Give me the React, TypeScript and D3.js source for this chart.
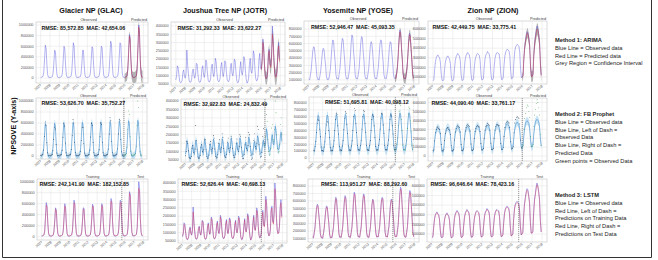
import * as d3 from "d3";
import { useEffect, useRef } from "react";

// visits per month, in thousands, Jan 2007 .. Dec 2017
const glacObserved = [
  12, 15, 22, 30, 110, 360, 620, 560, 240, 60, 15, 11,
  11, 14, 20, 26, 95, 300, 525, 490, 210, 55, 14, 10,
  12, 15, 21, 30, 105, 340, 600, 545, 235, 58, 14, 11,
  12, 16, 23, 31, 115, 370, 665, 600, 250, 62, 15, 12,
  11, 14, 20, 25, 85, 280, 525, 520, 230, 55, 14, 11,
  12, 15, 22, 30, 110, 345, 590, 560, 245, 60, 15, 12,
  12, 16, 22, 31, 112, 350, 600, 570, 250, 58, 15, 12,
  13, 17, 24, 33, 125, 400, 695, 640, 270, 65, 16, 13,
  14, 18, 25, 35, 130, 400, 665, 640, 300, 75, 17, 14,
  15, 19, 28, 40, 160, 480, 820, 760, 350, 85, 18, 15,
  16, 20, 30, 42, 170, 560, 1000, 880, 330, 80, 18, 16,
];
const jotrObserved = [
  75, 100, 160, 150, 105, 66, 58, 60, 72, 120, 135, 95,
  85, 115, 255, 165, 110, 68, 60, 62, 78, 125, 140, 100,
  85, 110, 175, 170, 110, 70, 60, 62, 80, 140, 160, 110,
  90, 120, 195, 180, 115, 72, 62, 65, 82, 150, 170, 115,
  95, 125, 205, 185, 118, 74, 64, 66, 84, 155, 180, 118,
  95, 125, 190, 180, 120, 75, 65, 66, 85, 150, 175, 115,
  100, 130, 200, 190, 125, 72, 58, 60, 82, 140, 185, 120,
  105, 135, 215, 200, 130, 78, 55, 62, 85, 165, 205, 130,
  115, 150, 250, 230, 140, 85, 68, 72, 95, 190, 235, 150,
  140, 190, 320, 280, 170, 100, 80, 85, 120, 240, 260, 170,
  160, 230, 400, 330, 200, 120, 95, 100, 140, 260, 300, 200,
];
const yoseObserved = [
  115, 105, 165, 240, 370, 500, 557, 545, 420, 310, 160, 110,
  110, 100, 160, 235, 355, 480, 535, 520, 400, 300, 150, 105,
  115, 110, 170, 250, 400, 560, 650, 630, 470, 350, 170, 115,
  120, 110, 175, 255, 410, 580, 672, 650, 490, 360, 175, 118,
  120, 112, 175, 250, 400, 600, 718, 690, 500, 370, 180, 120,
  122, 115, 180, 260, 420, 600, 695, 680, 500, 375, 180, 120,
  120, 112, 178, 255, 400, 560, 626, 600, 470, 300, 170, 118,
  125, 118, 185, 265, 420, 580, 650, 640, 480, 360, 180, 122,
  125, 118, 185, 262, 410, 560, 626, 610, 470, 350, 178, 120,
  130, 125, 200, 290, 470, 680, 786, 760, 560, 400, 190, 125,
  120, 115, 180, 260, 430, 640, 741, 720, 540, 380, 185, 120,
];
const zionObserved = [
  60, 70, 170, 260, 300, 320, 330, 310, 300, 250, 130, 65,
  60, 70, 175, 255, 290, 310, 320, 300, 290, 240, 120, 60,
  62, 75, 180, 270, 310, 330, 345, 330, 320, 270, 130, 65,
  65, 80, 190, 280, 320, 340, 355, 340, 330, 280, 135, 68,
  65, 80, 195, 275, 310, 335, 345, 335, 325, 275, 140, 70,
  70, 85, 200, 290, 330, 345, 365, 350, 340, 290, 145, 72,
  70, 85, 200, 290, 330, 350, 355, 345, 340, 280, 140, 72,
  75, 95, 220, 320, 360, 380, 390, 380, 370, 320, 160, 80,
  85, 105, 260, 370, 410, 430, 440, 430, 420, 360, 180, 90,
  100, 120, 300, 420, 480, 540, 572, 560, 500, 430, 220, 110,
  110, 130, 330, 460, 520, 590, 630, 600, 540, 460, 240, 120,
];

// ARIMA forecast, Jan 2016 .. Dec 2017, with half width of the interval
const glacArima = [
  5, 10, 20, 40, 150, 460, 790, 730, 330, 80, 20, 10,
  8, 12, 25, 45, 170, 540, 960, 860, 350, 85, 20, 12,
];
const glacArimaCi = [
  75, 80, 85, 88, 90, 92, 95, 97, 99, 100, 102, 104,
  105, 106, 108, 110, 112, 114, 116, 118, 120, 121, 122, 124,
];
const jotrArima = [
  135, 180, 300, 270, 165, 100, 82, 88, 115, 225, 250, 165,
  150, 210, 350, 310, 190, 115, 90, 95, 130, 245, 280, 185,
];
const jotrArimaCi = [
  30, 32, 34, 35, 36, 37, 38, 39, 40, 41, 42, 43,
  44, 45, 46, 46, 47, 47, 48, 48, 49, 49, 50, 50,
];
const yoseArima = [
  125, 120, 190, 275, 440, 640, 760, 740, 540, 390, 185, 122,
  122, 118, 185, 265, 420, 620, 720, 700, 530, 375, 180, 118,
];
const yoseArimaCi = [
  50, 52, 54, 56, 58, 60, 62, 63, 64, 65, 66, 67,
  68, 69, 70, 71, 72, 73, 74, 75, 76, 77, 78, 79,
];
const zionArima = [
  95, 115, 290, 410, 470, 520, 560, 545, 490, 420, 210, 105,
  105, 125, 320, 440, 500, 560, 600, 585, 525, 445, 230, 115,
];
const zionArimaCi = [
  40, 42, 44, 46, 48, 50, 52, 53, 54, 55, 56, 57,
  58, 59, 60, 61, 62, 63, 64, 65, 66, 67, 68, 69,
];

// Prophet fitted curve over the whole span
const glacProphet = [
  -20, -10, 5, 35, 140, 380, 590, 555, 265, 55, -10, -22,
  -20, -10, 5, 35, 142, 384, 595, 558, 267, 56, -10, -22,
  -19, -9, 6, 36, 144, 388, 600, 562, 270, 57, -9, -21,
  -18, -8, 7, 37, 146, 392, 605, 566, 272, 58, -8, -20,
  -17, -7, 8, 38, 148, 396, 610, 570, 275, 59, -7, -19,
  -16, -6, 9, 39, 150, 400, 615, 575, 278, 60, -6, -18,
  -15, -5, 10, 40, 152, 405, 620, 580, 281, 62, -5, -17,
  -13, -3, 12, 42, 155, 410, 627, 586, 285, 64, -3, -15,
  -11, -1, 14, 44, 158, 416, 634, 592, 289, 66, -1, -13,
  -9, 1, 16, 46, 161, 422, 641, 598, 293, 68, 1, -11,
  -7, 3, 18, 48, 164, 428, 648, 604, 297, 70, 3, -9,
];
const jotrProphet = [
  85, 110, 165, 150, 110, 70, 58, 62, 80, 125, 140, 100,
  88, 113, 168, 153, 113, 73, 61, 65, 83, 128, 143, 103,
  91, 116, 171, 156, 116, 76, 64, 68, 86, 131, 146, 106,
  94, 119, 174, 159, 119, 79, 67, 71, 89, 134, 149, 109,
  96, 121, 176, 161, 121, 81, 69, 73, 91, 136, 151, 111,
  98, 123, 178, 163, 123, 83, 71, 75, 93, 138, 153, 113,
  101, 126, 181, 166, 126, 86, 74, 78, 96, 141, 156, 116,
  106, 131, 186, 171, 131, 91, 79, 83, 101, 146, 161, 121,
  113, 138, 193, 178, 138, 98, 86, 90, 108, 153, 168, 128,
  130, 160, 235, 215, 160, 115, 100, 105, 125, 180, 200, 150,
  140, 170, 250, 230, 170, 125, 110, 115, 135, 195, 215, 160,
];
const yoseProphet = [
  100, 95, 155, 245, 390, 545, 620, 600, 455, 330, 155, 95,
  102, 97, 157, 247, 393, 548, 624, 604, 458, 332, 157, 97,
  104, 99, 159, 249, 396, 552, 628, 608, 461, 334, 159, 99,
  106, 101, 161, 251, 399, 556, 632, 612, 464, 336, 161, 101,
  108, 103, 163, 253, 402, 560, 636, 616, 467, 338, 163, 103,
  110, 105, 165, 255, 405, 564, 640, 620, 470, 340, 165, 105,
  111, 106, 166, 256, 407, 566, 642, 622, 472, 341, 166, 106,
  112, 107, 167, 257, 409, 568, 645, 625, 474, 342, 167, 107,
  114, 109, 169, 259, 412, 572, 649, 629, 477, 344, 169, 109,
  116, 111, 171, 261, 415, 576, 653, 633, 480, 346, 171, 111,
  118, 113, 173, 263, 418, 580, 657, 637, 483, 348, 173, 113,
];
const zionProphet = [
  40, 60, 170, 250, 290, 310, 320, 305, 290, 240, 120, 45,
  45, 65, 175, 255, 295, 315, 325, 310, 295, 245, 125, 50,
  50, 70, 180, 260, 300, 320, 330, 315, 300, 250, 130, 55,
  55, 75, 185, 265, 305, 325, 335, 320, 305, 255, 135, 60,
  60, 80, 190, 270, 310, 330, 340, 325, 310, 260, 140, 65,
  65, 85, 195, 275, 315, 335, 345, 330, 315, 265, 145, 70,
  70, 90, 200, 280, 320, 340, 350, 335, 320, 270, 150, 75,
  78, 98, 210, 292, 334, 354, 364, 349, 334, 282, 158, 83,
  88, 108, 222, 306, 350, 370, 380, 365, 350, 296, 168, 93,
  98, 118, 234, 320, 366, 386, 396, 381, 366, 310, 178, 103,
  108, 128, 246, 334, 382, 402, 412, 397, 382, 324, 188, 113,
];
// uncertainty half width of the Prophet band
const prophetBands = [70, 28, 60, 45];

// LSTM predictions (training part, then test part)
const glacLstm = [
  20, 18, 24, 32, 95, 330, 575, 540, 250, 70, 22, 16,
  15, 16, 22, 30, 100, 290, 500, 470, 215, 62, 20, 15,
  16, 17, 23, 32, 100, 320, 560, 520, 240, 64, 20, 15,
  16, 18, 25, 33, 110, 350, 620, 580, 255, 68, 21, 16,
  15, 16, 22, 28, 90, 270, 500, 495, 235, 62, 20, 15,
  16, 17, 24, 32, 105, 330, 560, 540, 250, 66, 21, 16,
  16, 18, 24, 33, 108, 335, 570, 550, 255, 65, 21, 16,
  17, 19, 26, 35, 118, 380, 650, 615, 275, 70, 22, 17,
  18, 20, 27, 37, 125, 385, 630, 615, 300, 80, 23, 18,
  19, 21, 30, 42, 150, 455, 790, 730, 345, 88, 24, 19,
  20, 22, 32, 44, 160, 520, 880, 830, 330, 85, 24, 20,
];
const jotrLstm = [
  80, 98, 150, 145, 108, 70, 60, 62, 75, 115, 128, 95,
  88, 112, 225, 165, 112, 70, 62, 64, 80, 122, 135, 100,
  88, 110, 170, 165, 112, 72, 62, 64, 82, 135, 152, 110,
  92, 118, 185, 175, 116, 74, 64, 67, 84, 145, 162, 115,
  96, 122, 195, 180, 118, 76, 66, 68, 86, 150, 172, 118,
  96, 122, 182, 175, 120, 77, 67, 68, 87, 145, 168, 115,
  100, 127, 190, 182, 124, 74, 61, 62, 84, 137, 176, 120,
  105, 132, 205, 192, 128, 80, 58, 64, 87, 158, 195, 128,
  114, 145, 235, 220, 138, 86, 70, 74, 96, 182, 222, 148,
  135, 180, 300, 268, 165, 100, 82, 86, 118, 228, 248, 165,
  152, 215, 365, 310, 192, 118, 94, 98, 135, 245, 280, 190,
];
const yoseLstm = [
  120, 112, 170, 240, 360, 485, 540, 530, 410, 305, 165, 115,
  114, 106, 164, 236, 350, 470, 520, 508, 395, 296, 155, 110,
  118, 112, 172, 248, 390, 545, 630, 615, 460, 345, 172, 118,
  122, 114, 176, 252, 400, 565, 650, 635, 480, 355, 176, 120,
  122, 115, 176, 250, 392, 585, 695, 675, 490, 365, 180, 122,
  124, 117, 180, 258, 410, 585, 675, 665, 490, 370, 180, 122,
  122, 114, 178, 254, 392, 548, 610, 590, 462, 300, 172, 120,
  126, 120, 184, 262, 410, 568, 632, 625, 472, 355, 180, 123,
  126, 120, 184, 260, 402, 548, 610, 598, 462, 346, 178, 122,
  130, 126, 196, 282, 455, 660, 760, 740, 550, 395, 188, 126,
  122, 117, 180, 258, 420, 622, 715, 700, 530, 375, 184, 122,
];
const zionLstm = [
  65, 72, 160, 250, 292, 312, 322, 305, 295, 245, 135, 70,
  64, 72, 165, 246, 284, 303, 312, 295, 286, 237, 125, 64,
  66, 76, 170, 260, 302, 322, 336, 322, 314, 265, 135, 68,
  68, 80, 180, 270, 312, 332, 346, 332, 324, 275, 140, 70,
  68, 80, 185, 266, 302, 327, 336, 327, 319, 270, 145, 72,
  72, 85, 190, 280, 322, 337, 355, 342, 334, 285, 148, 74,
  72, 85, 190, 280, 322, 342, 346, 337, 333, 276, 145, 74,
  78, 94, 208, 308, 350, 370, 380, 372, 362, 315, 162, 82,
  86, 104, 245, 355, 398, 418, 428, 420, 410, 352, 182, 92,
  100, 118, 285, 405, 465, 525, 556, 546, 490, 422, 218, 110,
  110, 128, 315, 445, 505, 572, 612, 588, 530, 452, 238, 120,
];

const parkTitles = ["Glacier NP (GLAC)", "Joushua Tree NP (JOTR)", "Yosemite NP (YOSE)", "Zion NP (ZION)"];
const yearLabels = ["2007", "2008", "2009", "2010", "2011", "2012", "2013", "2014", "2015", "2016", "2017", "2018"];

const arimaScores = [
  "RMSE: 85,572.85  MAE: 42,654.06",
  "RMSE: 31,292.33  MAE: 23,622.27",
  "RMSE: 52,946.47  MAE: 45,093.35",
  "RMSE: 42,449.75  MAE: 33,775.41",
];
const prophetScores = [
  "RMSE: 53,626.70  MAE: 35,752.27",
  "RMSE: 32,922.83  MAE: 24,832.49",
  "RMSE: 51,695.81  MAE: 40,098.12",
  "RMSE: 44,090.40  MAE: 33,761.17",
];
const lstmScores = [
  "RMSE: 242,141.90  MAE: 182,152.85",
  "RMSE: 52,626.44  MAE: 40,698.13",
  "RMSE: 113,951.27  MAE: 88,292.60",
  "RMSE: 96,646.64  MAE: 78,423.16",
];

const methodNotes = [
  ["Method 1: ARIMA", "Blue Line = Observed data", "Red Line = Predicted data", "Grey Region = Confidence Interval"],
  ["Method 2: FB Prophet", "Blue Line = Observed data", "Blue Line, Left of Dash =", "Observed Data",
    "Blue Line, Right of Dash =", "Predicted Data", "Green points = Observed Data"],
  ["Method 3: LSTM", "Blue Line = Observed data", "Red Line, Left of Dash =", "Predictions on Training Data",
    "Red Line, Right of Dash =", "Predictions on Test Data"],
];

// y ticks, thousands
const ticksGlac = [0, 200, 400, 600, 800, 1000];
const ticksJotr = [50, 100, 150, 200, 250, 300, 350, 400];
const ticksYose = [100, 200, 300, 400, 500, 600, 700, 800];
const ticksYoseZero = [0, 100, 200, 300, 400, 500, 600, 700, 800];
const ticksZion = [100, 200, 300, 400, 500, 600];
const ticksZionZero = [0, 100, 200, 300, 400, 500, 600];

const observedSets = [glacObserved, jotrObserved, yoseObserved, zionObserved];
const arimaSets = [glacArima, jotrArima, yoseArima, zionArima];
const arimaCiSets = [glacArimaCi, jotrArimaCi, yoseArimaCi, zionArimaCi];
const prophetSets = [glacProphet, jotrProphet, yoseProphet, zionProphet];
const lstmSets = [glacLstm, jotrLstm, yoseLstm, zionLstm];

// panel frames and axis ranges, one entry per row
const rows = [
  {
    frames: [{ x: 36, y: 22, w: 112, h: 61 }, { x: 171, y: 22, w: 114, h: 64 }, { x: 304, y: 21, w: 115, h: 63 }, { x: 428, y: 21, w: 119, h: 63 }],
    domains: [[-94, 1057], [38, 424], [45, 910], [27, 683]],
    ticks: [ticksGlac, ticksJotr, ticksYose, ticksZion],
    scoreDx: [5.5, 6.5, 7, 4.5],
    scoreDy: 7.5,
  },
  {
    frames: [{ x: 36, y: 98, w: 111, h: 61 }, { x: 181, y: 99, w: 106, h: 63 }, { x: 309, y: 97, w: 109, h: 65 }, { x: 428, y: 98, w: 119, h: 63 }],
    domains: [[-55, 1055], [38, 412], [-58, 887], [-55, 650]],
    ticks: [ticksGlac, ticksJotr, ticksYoseZero, ticksZionZero],
    scoreDx: [5.5, 2.5, 16, 3.5],
    scoreDy: 6.5,
  },
  {
    frames: [{ x: 37, y: 179, w: 111, h: 61 }, { x: 178, y: 179, w: 109, h: 64 }, { x: 308, y: 179, w: 111, h: 63 }, { x: 427, y: 179, w: 120, h: 63 }],
    domains: [[-60, 1049], [38, 424], [52, 894], [17, 672]],
    ticks: [ticksGlac, ticksJotr, ticksYose, ticksZion],
    scoreDx: [2.5, 3.5, 13, 3.5],
    scoreDy: 7,
  },
];

const months = d3.timeMonth.range(new Date(2007, 0, 1), new Date(2018, 0, 1));
const forecastStart = 108; // Jan 2016
const testStart = 104; // Sep 2015

const BLUE = "#4b4bdc";
const RED = "#d42a3c";
const FONT = "'Liberation Sans', Arial, sans-serif";

const App = () => {
  const ref = useRef<SVGSVGElement>(null);

  useEffect(() => {
    const svg = d3.select(ref.current);
    svg.selectAll("*").remove();

    svg.append("rect").attr("width", 658).attr("height", 260).attr("fill", "#fff");
    // outer border
    svg.append("path")
      .attr("d", "M2.5,0 V257.5 H651.5 V0")
      .attr("fill", "none").attr("stroke", "#333").attr("stroke-width", 1);

    const titleX = [91, 225, 358, 493];
    parkTitles.forEach((t, i) => {
      svg.append("text").attr("x", titleX[i]).attr("y", 12.5)
        .attr("text-anchor", "middle").attr("font-family", FONT)
        .attr("font-weight", 700).attr("font-size", 7.2).attr("fill", "#111").text(t);
    });

    svg.append("text")
      .attr("transform", "translate(16,126) rotate(-90)")
      .attr("text-anchor", "middle").attr("font-family", FONT)
      .attr("font-weight", 700).attr("font-size", 7.2).attr("fill", "#111")
      .text("NPSOVE (Y-axis)");

    const noteTop = [42, 116, 197];
    methodNotes.forEach((lines, r) => {
      lines.forEach((l, k) => {
        svg.append("text").attr("x", 555).attr("y", noteTop[r] + k * 7.8)
          .attr("font-family", FONT).attr("font-size", 5.7)
          .attr("font-weight", k === 0 ? 700 : 400).attr("fill", "#222").text(l);
      });
    });

    const xDomain = [new Date(2006, 6, 1), new Date(2018, 6, 1)];
    const yearTicks = yearLabels.map(y => new Date(+y, 0, 1));

    let clipId = 0;
    rows.forEach((row, r) => {
      row.frames.forEach((f, p) => {
        const g = svg.append("g").attr("transform", `translate(${f.x},${f.y})`);
        const x = d3.scaleTime().domain(xDomain).range([0, f.w]);
        const y = d3.scaleLinear().domain(row.domains[p]).range([f.h, 0]);
        const ticks = row.ticks[p];

        g.append("rect").attr("width", f.w).attr("height", f.h).attr("fill", "#fff");
        g.selectAll(".gy").data(ticks).enter().append("line")
          .attr("x1", 0).attr("x2", f.w).attr("y1", d => y(d)).attr("y2", d => y(d))
          .attr("stroke", "#dcdcdc").attr("stroke-width", 0.4);
        g.selectAll(".gx").data(yearTicks).enter().append("line")
          .attr("y1", 0).attr("y2", f.h).attr("x1", d => x(d)).attr("x2", d => x(d))
          .attr("stroke", "#dcdcdc").attr("stroke-width", 0.4);

        // y tick labels
        g.selectAll(".ty").data(ticks).enter().append("text")
          .attr("x", -2.5).attr("y", d => y(d) + 1.3)
          .attr("text-anchor", "end").attr("font-family", FONT).attr("font-size", 3.8)
          .attr("fill", "#555").text(d => String(d * 1000));
        // x tick labels
        g.selectAll(".tx").data(yearTicks).enter().append("text")
          .attr("transform", d => `translate(${x(d) + 1},${f.h + 2.5}) rotate(-40)`)
          .attr("text-anchor", "end").attr("font-family", FONT).attr("font-size", 3.5)
          .attr("fill", "#555").text((d, i) => yearLabels[i]);

        const cid = `clip${clipId++}`;
        g.append("clipPath").attr("id", cid).append("rect").attr("width", f.w).attr("height", f.h);
        const plot = g.append("g").attr("clip-path", `url(#${cid})`);

        const obs = observedSets[p];
        const line = d3.line<number>().x((d, i) => x(months[i])).y(d => y(d));
        const label = (t: string, lx: number, anchor: string) =>
          g.append("text").attr("x", lx).attr("y", -1.5).attr("text-anchor", anchor)
            .attr("font-family", FONT).attr("font-size", 3.8).attr("fill", "#444").text(t);

        if (r === 0) {
          const pred = arimaSets[p];
          const ci = arimaCiSets[p];
          const at = (i: number) => x(months[forecastStart + i]);
          plot.append("path").datum(pred)
            .attr("d", d3.area<number>().x((d, i) => at(i)).y0((d, i) => y(d - ci[i])).y1((d, i) => y(d + ci[i])))
            .attr("fill", "#6e6e6e").attr("opacity", 0.5);
          plot.append("path").datum(obs).attr("d", line)
            .attr("fill", "none").attr("stroke", BLUE).attr("stroke-width", 0.6).attr("opacity", 0.7);
          plot.append("path").datum(pred)
            .attr("d", d3.line<number>().x((d, i) => at(i)).y(d => y(d)))
            .attr("fill", "none").attr("stroke", RED).attr("stroke-width", 0.6).attr("opacity", 0.75);
          label("Observed", f.w * 0.47, "middle");
          label("Predicted", f.w - 1, "end");
        } else if (r === 1) {
          const fit = prophetSets[p];
          const band = prophetBands[p];
          plot.append("path").datum(fit)
            .attr("d", d3.area<number>().x((d, i) => x(months[i])).y0(d => y(d - band)).y1(d => y(d + band)))
            .attr("fill", "#a9d4ef").attr("opacity", 0.6);
          plot.append("path").datum(fit).attr("d", line)
            .attr("fill", "none").attr("stroke", "#3a88c9").attr("stroke-width", 0.55);
          plot.selectAll(".pt").data(obs).enter().append("circle")
            .attr("cx", (d, i) => x(months[i])).attr("cy", d => y(d)).attr("r", 0.45)
            .attr("fill", (d, i) => (i >= forecastStart ? "#2e9a3a" : "#1d2438"));
          const sx = x(months[forecastStart]);
          g.append("line").attr("x1", sx).attr("x2", sx).attr("y1", 0).attr("y2", f.h)
            .attr("stroke", "#333").attr("stroke-width", 0.5).attr("stroke-dasharray", "1.2,0.8");
          label("Observed", f.w * 0.47, "middle");
          label("Predicted", f.w - 1, "end");
        } else {
          const pred = lstmSets[p];
          plot.append("path").datum(obs).attr("d", line)
            .attr("fill", "none").attr("stroke", BLUE).attr("stroke-width", 0.6).attr("opacity", 0.8);
          plot.append("path").datum(pred).attr("d", line)
            .attr("fill", "none").attr("stroke", "#e8364e").attr("stroke-width", 0.6).attr("opacity", 0.7);
          const sx = x(months[testStart]);
          g.append("line").attr("x1", sx).attr("x2", sx).attr("y1", 0).attr("y2", f.h)
            .attr("stroke", "#333").attr("stroke-width", 0.5).attr("stroke-dasharray", "1.2,0.8");
          label("Training", f.w * 0.5, "middle");
          label("Test", f.w - 4, "end");
        }

        g.append("rect").attr("width", f.w).attr("height", f.h)
          .attr("fill", "none").attr("stroke", "#b8b8b8").attr("stroke-width", 0.5);

        const score = [arimaScores, prophetScores, lstmScores][r][p];
        g.append("text").attr("x", row.scoreDx[p]).attr("y", row.scoreDy)
          .attr("font-family", FONT).attr("font-weight", 700).attr("font-size", 5.3)
          .attr("fill", "#111").style("white-space", "pre").text(score);
      });
    });
  }, []);

  return (
    <svg ref={ref} width={658} height={260}
      style={{ position: "absolute", left: 0, top: 0, display: "block" }} />
  );
};

export default App;
